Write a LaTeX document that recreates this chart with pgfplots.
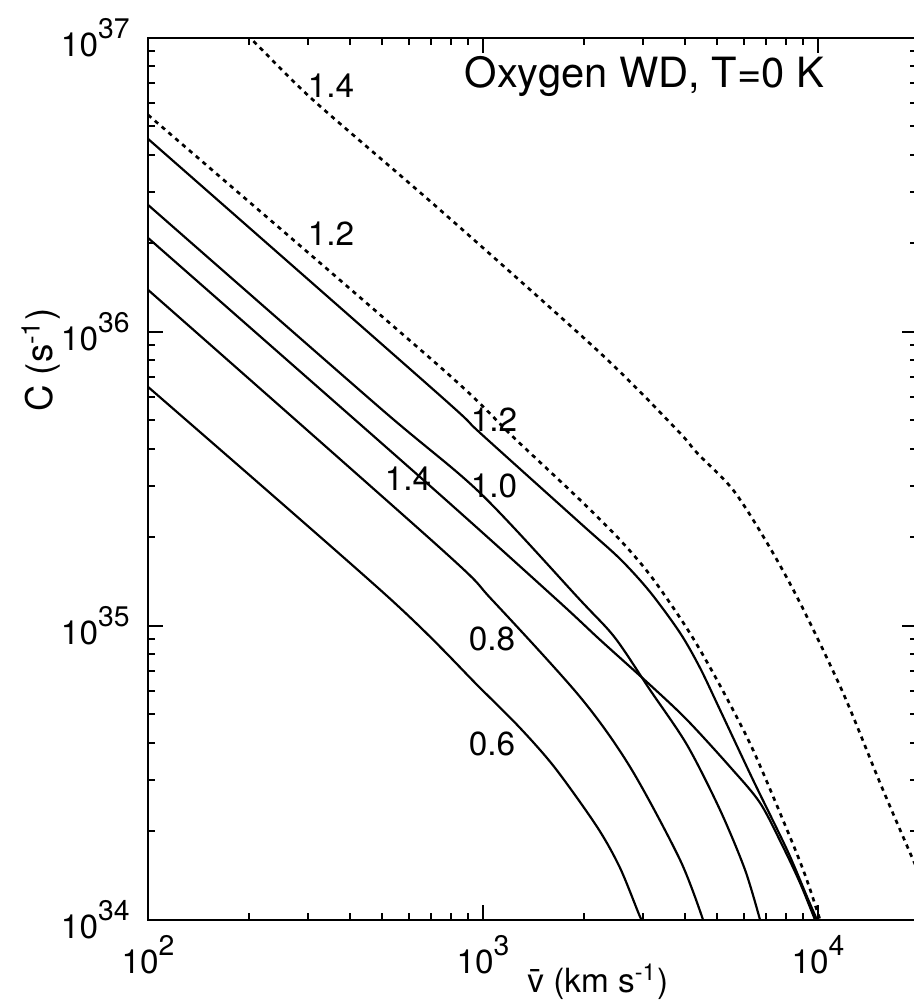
\documentclass[border=0pt]{standalone}
\usepackage{fontspec}
\setmainfont{TeX Gyre Heros}
\usepackage{pgfplots}
\pgfplotsset{compat=1.18}
\newcommand{\tl}[1]{10\raisebox{5.4pt}{\fontsize{8.5}{8.5}\selectfont #1}}
\begin{document}
\begin{tikzpicture}
\begin{loglogaxis}[
  scale only axis, width=230.7pt, height=264.6pt,
  xmin=100, xmax=19750, ymin=1e34, ymax=1e37,
  xtick={100,1000,10000}, xticklabels={\tl{2},\tl{3},\tl{4}},
  ytick={1e34,1e35,1e36,1e37}, yticklabels={\tl{34},\tl{35},\tl{36},\tl{37}},
  minor xtick={200,300,400,500,600,700,800,900,2000,3000,4000,5000,6000,7000,8000,9000,20000},
  minor ytick={2e34,3e34,4e34,5e34,6e34,7e34,8e34,9e34,2e35,3e35,4e35,5e35,6e35,7e35,8e35,9e35,2e36,3e36,4e36,5e36,6e36,7e36,8e36,9e36},
  major tick length=4.5pt, minor tick length=2.1pt,
  axis line style={line width=0.8pt},
  every tick/.style={black, line width=0.6pt},
  tick label style={font=\fontsize{10}{12}\selectfont},
  xticklabel style={yshift=-1pt},
  yticklabel style={xshift=-2pt},
  xlabel={\=v (km s\textsuperscript{-1})},
  xlabel style={font=\fontsize{10}{12}\selectfont, at={(rel axis cs:0.585,-0.07)}, anchor=center},
  ylabel={C (s\textsuperscript{-1})},
  ylabel style={font=\fontsize{11}{13}\selectfont, at={(rel axis cs:-0.139,0.635)}, anchor=center},
  solid/.style={black, line width=0.65pt, no markers, smooth, tension=0.5},
  dot/.style={black, line width=0.8pt, no markers, smooth, tension=0.5, dash pattern=on 1.3pt off 1.4pt},
]
% dotted 1.4
\addplot[dot] coordinates {(143.0,1.422e37) (201.6,1e37) (310.8,6.153e36) (744.3,2.600e36) (2236,8.483e35) (3794,4.642e35) (4353,3.877e35) (5577,2.901e35) (7045,1.916e35) (8836,1.198e35) (11876,5.918e34) (15314,2.924e34) (18825,1.690e34) (21596,1.188e34)};
% dotted 1.2
\addplot[dot] coordinates {(100,5.471e36) (744.3,7.603e35) (1229,4.395e35) (1948,2.683e35) (2564,1.961e35) (3151,1.491e35) (3874,1.065e35) (4444,8.287e34) (5278,5.826e34) (6397,3.786e34) (8083,2.024e34) (9147,1.422e34) (10138,1e34)};
% solid 1.2
\addplot[solid] coordinates {(100,4.535e36) (729.2,6.202e35) (979.5,4.535e35) (1948,2.240e35) (2564,1.690e35) (3151,1.305e35) (3874,9.467e34) (4444,7.197e34) (5099,5.179e34) (6397,2.993e34) (8083,1.730e34) (9274,1.197e34) (9931,1e34)};
% solid 1.0
\addplot[solid] coordinates {(100,2.704e36) (492.6,5.513e35) (979.5,2.834e35) (1948,1.226e35) (2478,9.104e34) (3151,6.059e34) (4064,3.937e34) (5099,2.366e34) (6055,1.480e34) (6713,1e34)};
% solid 1.4
\addplot[solid] coordinates {(100,2.088e36) (694.8,2.994e35) (1663,1.226e35) (2236,8.963e34) (3151,6.301e34) (4064,4.789e34) (5463,3.314e34) (6713,2.500e34) (7863,1.772e34) (8836,1.336e34) (9795,1e34)};
% solid 0.8
\addplot[solid] coordinates {(100,1.390e36) (744.3,1.842e35) (1064,1.226e35) (1948,5.735e34) (2747,3.314e34) (3874,1.600e34) (4537,1e34)};
% solid 0.6
\addplot[solid] coordinates {(100,6.501e35) (520.5,1.255e35) (979.5,6.155e34) (1289,4.499e34) (1640,3.289e34) (2190,2.072e34) (2564,1.503e34) (2943,1.024e34) (3004,1e34)};
\begin{scope}[every node/.style={font=\fontsize{10}{12}\selectfont, inner sep=0pt}]
\node at (axis cs:351.8,6.865e36) {1.4};
\node at (axis cs:351.8,2.154e36) {1.2};
\node at (axis cs:1078,5.022e35) {1.2};
\node at (axis cs:1078,2.994e35) {1.0};
\node at (axis cs:597.3,3.162e35) {1.4};
\node at (axis cs:1064,9.033e34) {0.8};
\node at (axis cs:1064,3.968e34) {0.6};
\end{scope}
\node[anchor=base east, inner sep=0pt, font=\fontsize{12.5}{14}\selectfont] at (rel axis cs:0.880,0.944) {Oxygen WD, T=0 K};
\end{loglogaxis}
\pgfresetboundingbox
\useasboundingbox (-44.4pt,-24pt) rectangle (229.5pt,276pt);
\end{tikzpicture}
\end{document}
